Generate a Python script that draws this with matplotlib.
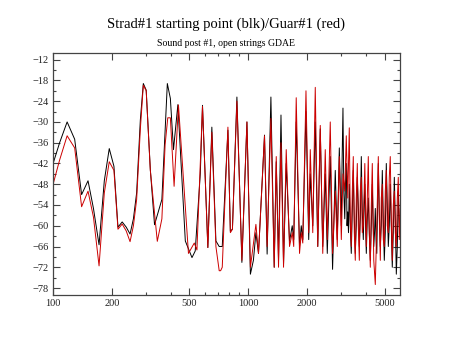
import matplotlib
matplotlib.use("Agg")
import matplotlib.pyplot as plt
from matplotlib.ticker import FixedLocator, NullFormatter

# black curve (Strad#1): frequency (Hz) and level (dB)
blk_f = [100, 108, 118, 129, 140, 151, 161, 172, 183, 194, 205, 215, 226, 237, 248,
         258, 268, 280, 290, 300, 315, 331, 361, 385, 399, 414, 436, 476, 515, 535,
         568, 583, 621, 651, 683, 710, 736, 787, 810, 830, 875, 928, 985, 1026, 1063,
         1095, 1129, 1212, 1250, 1307, 1359, 1392, 1430, 1472, 1517, 1566, 1628, 1681,
         1711, 1762, 1832, 1870, 1904, 1977, 2042, 2080, 2142, 2206, 2272, 2340, 2410,
         2482, 2542, 2633, 2706, 2793, 2860, 2930, 3000, 3030, 3059, 3090, 3125, 3150,
         3181, 3210, 3237, 3265, 3296, 3335, 3374, 3415, 3455, 3497, 3538, 3580, 3623,
         3665, 3710, 3754, 3798, 3843, 3889, 3925, 3959, 3995, 4029, 4077, 4125, 4174,
         4224, 4274, 4324, 4360, 4400, 4440, 4480, 4520, 4560, 4600, 4642, 4697, 4753,
         4809, 4866, 4924, 4982, 5041, 5101, 5162, 5224, 5285, 5346, 5410, 5474, 5540,
         5607, 5674, 5741, 5809, 5877, 5947, 6018]
blk_db = [-42, -36, -30, -35, -51, -47, -55, -65.5, -47, -37.7, -42.8, -60.4, -58.9, -60.4, -62.4,
          -58, -50.5, -29.4, -18.9, -20.8, -43.8, -59.7, -52.4, -18.9, -23.2, -38, -25, -64.4, -69.2, -67.3,
          -45, -25.2, -66.3, -31.5, -64.4, -66, -66, -32.4, -61.6, -61, -22.8, -70.6, -30, -74, -70,
          -62, -68, -33.8, -68.2, -22.8, -72, -41.5, -70, -28, -71, -42, -64.5, -60,
          -64, -30, -66, -60, -64, -27, -64, -45, -60, -30, -66, -32, -66,
          -45, -68, -40, -72.6, -44, -64, -37.5, -60, -40, -26, -50, -58, -48,
          -42, -60, -56, -62, -48, -60, -68, -56, -44, -58, -68, -60, -46,
          -54, -66, -58, -40, -56, -64, -54, -48, -60, -68, -58, -52, -62,
          -70, -60, -48, -58, -66, -62, -55, -64, -68, -56, -42, -56, -66,
          -60, -44, -58, -70, -62, -42, -54, -66, -60, -48, -60, -72, -62,
          -46, -58, -74, -66, -50, -60, -58]

# red curve (Guar#1)
red_f = [100, 108, 118, 129, 140, 151, 161, 172, 183, 194, 205, 215, 226, 237, 248,
         258, 268, 280, 290, 300, 315, 342, 361, 375, 387, 399, 417, 439, 494, 529,
         546, 568, 583, 621, 651, 683, 710, 722, 736, 787, 810, 830, 875, 928, 985,
         1026, 1095, 1129, 1212, 1250, 1307, 1359, 1392, 1430, 1472, 1517, 1566, 1628,
         1681, 1711, 1762, 1832, 1870, 1904, 1977, 2042, 2080, 2142, 2206, 2272, 2340,
         2410, 2482, 2542, 2633, 2706, 2793, 2860, 2930, 3000, 3059, 3125, 3181, 3237,
         3296, 3335, 3374, 3415, 3455, 3497, 3538, 3580, 3623, 3665, 3710, 3754, 3798,
         3843, 3889, 3959, 4029, 4077, 4125, 4174, 4224, 4274, 4324, 4400, 4480, 4560,
         4642, 4697, 4753, 4809, 4866, 4924, 4982, 5041, 5101, 5162, 5224, 5285, 5346,
         5410, 5474, 5540, 5607, 5674, 5741, 5809, 5877, 5947, 6018]
red_db = [-48, -41, -34, -37.5, -54.5, -50, -57.5, -71.6, -50.5, -41.5, -44, -61, -59.5, -61.5, -64.6,
          -60, -52.4, -32, -19.4, -21, -44, -64.5, -58, -36.6, -28.8, -28.8, -48.6, -25.1, -68, -65,
          -67, -42, -25.5, -66.3, -33, -66, -73, -73, -72, -31.5, -62, -61, -24, -70, -30,
          -72, -59.6, -68, -34, -66, -29, -72, -40, -72, -36, -72, -38, -66,
          -62, -66, -23, -68, -62, -65, -21, -62, -38, -62, -20, -66, -31,
          -68, -38, -64, -30, -68, -50, -66, -40, -64, -45, -50, -34, -52,
          -31.7, -58, -66, -50, -40, -62, -70, -52, -42, -60, -70, -50, -46,
          -62, -60, -42, -66, -52, -40, -62, -72, -54, -42, -70, -77, -60,
          -40, -58, -70, -52, -48, -64, -66, -50, -44, -60, -62, -46, -40,
          -58, -70, -54, -50, -62, -66, -52, -46, -64, -55]

x_major = [100, 200, 500, 1000, 2000, 5000]
x_minor = [300, 400, 600, 700, 800, 900, 3000, 4000]
y_major = list(range(-78, -11, 6))
y_minor = list(range(-75, -11, 6))

plt.rcParams['font.family'] = ['Liberation Serif', 'DejaVu Serif']

fig = plt.figure(figsize=(4.5, 3.47), dpi=100)
ax = fig.add_axes([0.118, 0.15, 0.771, 0.698])

ax.plot(blk_f, blk_db, color='black', lw=0.7)
ax.plot(red_f, red_db, color='#cc0000', lw=0.7)

ax.set_xscale('log')
ax.set_xlim(100, 6000)
ax.set_ylim(-80, -10)

ax.xaxis.set_major_locator(FixedLocator(x_major))
ax.xaxis.set_minor_locator(FixedLocator(x_minor))
ax.xaxis.set_minor_formatter(NullFormatter())
ax.set_xticklabels([str(v) for v in x_major])
ax.yaxis.set_major_locator(FixedLocator(y_major))
ax.yaxis.set_minor_locator(FixedLocator(y_minor))

ax.tick_params(which='both', direction='in', top=True, right=True,
               color='#444444', labelsize=7.5, labelcolor='#222222', pad=3)
ax.tick_params(which='major', length=5, width=0.8)
ax.tick_params(which='minor', length=2.5, width=0.8)
for s in ax.spines.values():
    s.set_color('#444444')
    s.set_linewidth(0.9)

fig.text(0.503, 0.93, "Strad#1 starting point (blk)/Guar#1 (red)",
         ha='center', va='center', fontsize=10.5)
fig.text(0.503, 0.876, "Sound post #1, open strings GDAE",
         ha='center', va='center', fontsize=7)

fig.savefig("out.png", dpi=100)
